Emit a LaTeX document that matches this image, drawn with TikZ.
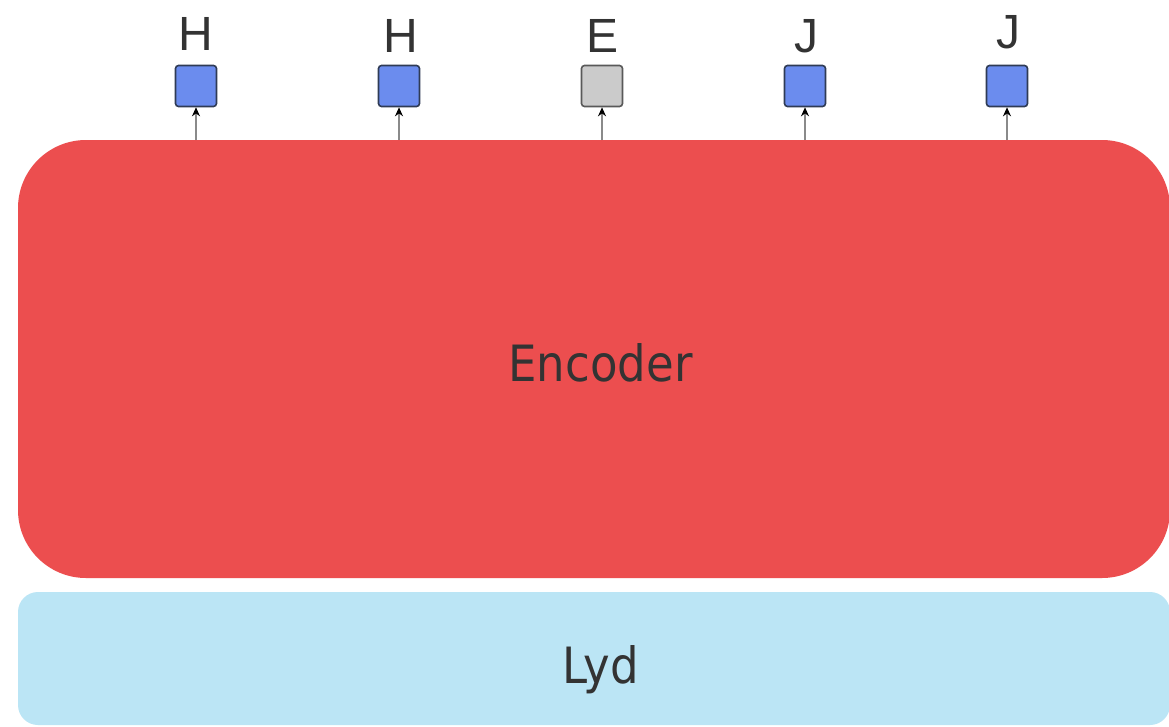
\documentclass[tikz,border=0pt]{standalone}
\usepackage{fontspec}
\setmainfont{DejaVu Sans}[FakeStretch=0.9]
\newfontfamily\labelfont{Liberation Sans}
\usetikzlibrary{arrows.meta}
\definecolor{encred}{HTML}{EC4E4F}
\definecolor{lydblue}{HTML}{BBE5F5}
\definecolor{sqblue}{HTML}{6B8CEE}
\definecolor{sqgray}{HTML}{CBCBCB}
\definecolor{sqedge}{HTML}{2F3B55}
\definecolor{txt}{HTML}{333333}
\definecolor{arrgray}{HTML}{8A8A8A}
\tikzset{
  bigbox/.style={draw=none, inner sep=0pt, outer sep=0pt},
  tok/.style={draw=sqedge, line width=1.6pt, rounded corners=3pt, minimum size=41pt, inner sep=0pt, fill=sqblue},
  tokgray/.style={tok, draw=black!65, fill=sqgray},
  toklabel/.style={anchor=base, text=txt, font=\labelfont\fontsize{48}{48}\selectfont},
  bigtext/.style={anchor=base, text=txt, font=\fontsize{50}{50}\selectfont, inner sep=0pt},
  conn/.style={draw=arrgray, line width=2.2pt, -{Stealth[length=9pt, width=8pt, color=black]}}
}
\begin{document}
\begin{tikzpicture}[x=1pt, y=-1pt]
\useasboundingbox (0,0) rectangle (1169,726);
\fill[white] (0,0) rectangle (1169,726);
% Encoder
\node[bigbox, fill=encred, rounded corners=68pt, minimum width=1152pt, minimum height=438pt] (enc) at (594,359) {};
\node[bigtext] (enctext) at (600.5,381) {Encoder};
% Lyd
\node[bigbox, fill=lydblue, rounded corners=20pt, minimum width=1152pt, minimum height=133pt] (lyd) at (594,658.5) {};
\node[bigtext] (lydtext) at (601,683) {Lyd};
% tokens
\node[tok] (t1) at (196,86) {};
\node[tok] (t2) at (399,86) {};
\node[tokgray] (t3) at (602,86) {};
\node[tok] (t4) at (805,86) {};
\node[tok] (t5) at (1007,86) {};
\node[toklabel] (l1) at (196,50) {H};
\node[toklabel] (l2) at (401,52) {H};
\node[toklabel] (l3) at (602,52) {E};
\node[toklabel] (l4) at (806,52) {J};
\node[toklabel] (l5) at (1008,48) {J};
\foreach \i in {1,...,5}{
  \draw[conn] (enc.north -| t\i) -- (t\i.south);
}
\end{tikzpicture}
\end{document}
